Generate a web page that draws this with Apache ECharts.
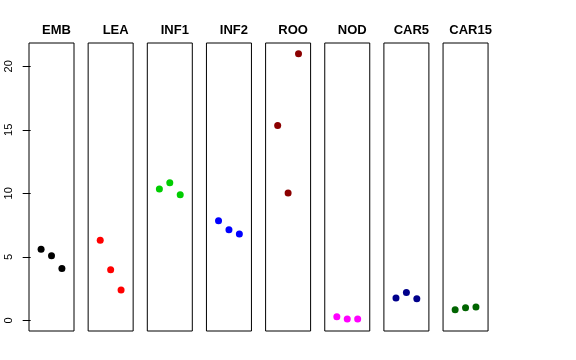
<!DOCTYPE html>
<html>
<head>
<meta charset="utf-8">
<script src="https://cdn.jsdelivr.net/npm/echarts@6/dist/echarts.min.js"></script>
<style>html,body{margin:0;padding:0;background:#fff}#c{width:576px;height:360px}</style>
</head>
<body>
<div id="c"></div>
<script>
var categories = ["EMB", "LEA", "INF1", "INF2", "ROO", "NOD", "CAR5", "CAR15"];
var colors = ["#000000", "#FF0000", "#00CD00", "#0000FF", "#8B0000", "#FF00FF", "#00008B", "#006400"];
var positions = [1, 2, 3];
var EMB = [5.59, 5.09, 4.09];
var LEA = [6.30, 3.98, 2.39];
var INF1 = [10.34, 10.84, 9.89];
var INF2 = [7.84, 7.13, 6.80];
var ROO = [15.35, 10.02, 20.99];
var NOD = [0.28, 0.10, 0.10];
var CAR5 = [1.76, 2.20, 1.70];
var CAR15 = [0.83, 0.99, 1.05];
var yTicks = [0, 5, 10, 15, 20];
var values = [EMB, LEA, INF1, INF2, ROO, NOD, CAR5, CAR15];

var chart = echarts.init(document.getElementById('c'), null, {renderer: 'canvas'});
var grids = [], xAxes = [], yAxes = [], series = [], titles = [];
var panelLeft0 = 29, panelStep = 59.15, panelW = 45, panelTop = 43, panelH = 288;
categories.forEach(function (name, i) {
  var l = panelLeft0 + i * panelStep;
  grids.push({left: l, top: panelTop, width: panelW, height: panelH, show: true, borderColor: '#000', borderWidth: 1});
  xAxes.push({type: 'value', gridIndex: i, min: -0.16, max: 4.16, show: false});
  if (i === 0) {
    yAxes.push({
      type: 'value', gridIndex: i, min: -0.84, max: 21.84,
      splitLine: {show: false},
      axisLine: {show: false},
      axisTick: {show: true, inside: false, length: 8, lineStyle: {color: '#000', width: 1}, customValues: yTicks},
      axisLabel: {show: true, rotate: 90, margin: 15, color: '#000', fontSize: 11, fontFamily: 'Liberation Sans, Arial, sans-serif', customValues: yTicks}
    });
  } else {
    yAxes.push({type: 'value', gridIndex: i, min: -0.84, max: 21.84, show: false, splitLine: {show: false}});
  }
  var vals = values[i];
  series.push({
    type: 'scatter', xAxisIndex: i, yAxisIndex: i,
    symbol: 'circle', symbolSize: 7,
    itemStyle: {color: colors[i], opacity: 1},
    data: positions.map(function (p, k) { return [p, vals[k]]; }),
    silent: true
  });
  titles.push({
    text: name, left: l + panelW / 2, top: 19, textAlign: 'center',
    textStyle: {fontSize: 13, fontWeight: 'bold', color: '#000', fontFamily: 'Liberation Sans, Arial, sans-serif'}
  });
});
chart.setOption({
  animation: false,
  backgroundColor: '#fff',
  title: titles,
  grid: grids,
  xAxis: xAxes,
  yAxis: yAxes,
  series: series
});
</script>
</body>
</html>
